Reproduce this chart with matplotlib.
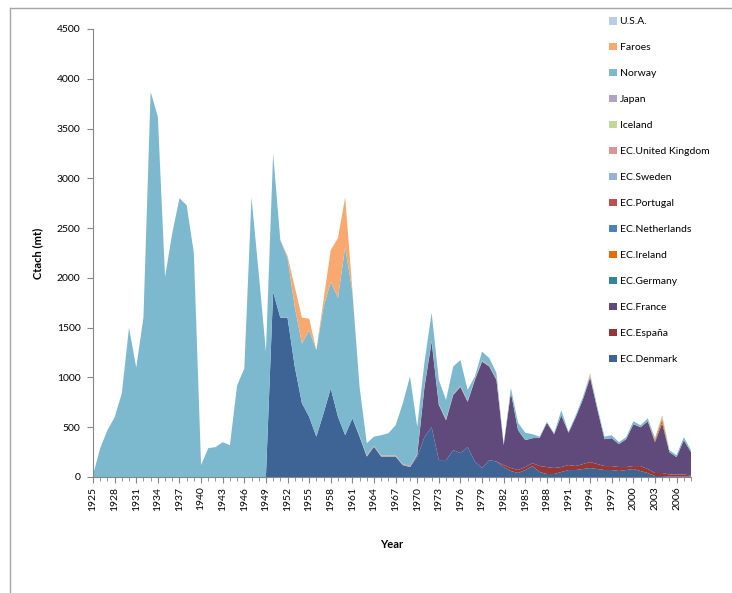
import matplotlib
matplotlib.use("Agg")
import matplotlib.pyplot as plt
from matplotlib.lines import Line2D
import numpy as np

plt.rcParams['font.family'] = ['Lato', 'DejaVu Sans']

years = list(range(1925, 2009))

# catch (mt) per country, 1925-2008
denmark = [0] * 25 + [
    1860, 1600, 1600, 1110, 740, 605, 405, 640, 890, 605,   # 1950-59
    420, 590, 405, 205, 305, 205, 205, 205, 120, 100,       # 1960-69
    200, 400, 500, 170, 170, 270, 240, 300, 155, 90,        # 1970-79
    170, 155, 100, 60, 40, 70, 110, 50, 30, 30,             # 1980-89
    50, 70, 70, 80, 90, 80, 70, 70, 60, 70,                 # 1990-99
    80, 60, 40, 10, 10, 5, 5, 5, 5]                         # 2000-08
espana = [0] * 57 + [
    20, 30, 30, 30, 30, 60, 70, 60,                         # 1982-89
    50, 50, 40, 50, 60, 50, 40, 40, 40, 30,                 # 1990-99
    30, 50, 40, 30, 30, 20, 20, 20, 10]                     # 2000-08
france = [0] * 45 + [
    20, 500, 860, 555, 400, 555, 665, 455, 820, 1070,       # 1970-79
    940, 820, 200, 760, 400, 270, 250, 285, 445, 340,       # 1980-89
    520, 325, 490, 650, 850, 550, 270, 280, 230, 280,       # 1990-99
    420, 390, 480, 310, 500, 225, 175, 345, 235]            # 2000-08
germany = [0] * 84
ireland = [0] * 78 + [20, 40, 0, 0, 0, 0]
netherlands = [0] * 84
portugal = [0] * 84
sweden = [0] * 84
uk = [0] * 37 + [10] * 20 + [0] * 27
iceland = [0] * 84
japan = [0] * 84
norway = [
    20, 290, 470, 600, 840,                                  # 1925-29
    1500, 1100, 1600, 3870, 3620, 2010, 2450, 2800, 2730, 2250,  # 1930-39
    120, 290, 300, 350, 320, 920, 1090, 2810, 2050, 1260,   # 1940-49
    1390, 780, 600, 600, 600, 870, 870, 1070, 1070, 1195,   # 1950-59
    1890, 1270, 490, 125, 90, 205, 225, 305, 610, 900,      # 1960-69
    275, 240, 280, 240, 195, 275, 260, 110, 25, 90,         # 1970-79
    75, 60, 10, 45, 75, 75, 40, 10, 10, 10,                 # 1980-89
    50, 10, 20, 25, 20, 25, 25, 30, 20, 20,                 # 1990-99
    30, 20, 30, 20, 20, 20, 20, 30, 20]                     # 2000-08
faroes = [0] * 27 + [
    20, 200, 260, 115, 0, 70, 320, 600,                     # 1952-59
    500, 20] + [0] * 32 + [20] + [0] * 9 + [20] + [0] * 4
usa = [0] * 84

labels = ["EC.Denmark", "EC.España", "EC.France", "EC.Germany", "EC.Ireland",
          "EC.Netherlands", "EC.Portugal", "EC.Sweden", "EC.United Kingdom",
          "Iceland", "Japan", "Norway", "Faroes", "U.S.A."]
series = [denmark, espana, france, germany, ireland, netherlands, portugal,
          sweden, uk, iceland, japan, norway, faroes, usa]
colors = ["#3D6495", "#953735", "#604A7B", "#31859C", "#E46C0A", "#4F81BD",
          "#C0504D", "#95B3D7", "#D99694", "#C3D69B", "#B3A2C7", "#7CB9CE",
          "#F9A86F", "#B9CDE5"]

fig = plt.figure(figsize=(7.32, 5.93), dpi=100)
ax = fig.add_axes([93 / 732, 116 / 593, 598 / 732, 448 / 593])
polys = ax.stackplot(years, *series, colors=colors, linewidth=0)

ax.set_xlim(1925, 2008)
ax.set_ylim(0, 4500)
ax.set_yticks(np.arange(0, 4501, 500))
ax.set_xticks(years, minor=True)
ax.set_xticks(list(range(1925, 2008, 3)))
ax.set_xticklabels([str(y) for y in range(1925, 2008, 3)], rotation=90)
for s in ["top", "right"]:
    ax.spines[s].set_visible(False)
for s in ["left", "bottom"]:
    ax.spines[s].set_color("#868686")
ax.tick_params(axis="both", which="both", color="#868686", labelsize=7.5)
ax.tick_params(axis="x", which="major", length=4, pad=3)
ax.tick_params(axis="x", which="minor", length=3)
ax.tick_params(axis="y", length=4, pad=5)

ax.set_ylabel("Ctach (mt)", fontsize=8, fontweight="bold", labelpad=10)
ax.set_xlabel("Year", fontsize=8, fontweight="bold", labelpad=20)

leg = fig.legend(polys[::-1], labels[::-1], loc="upper left",
                 bbox_to_anchor=(604 / 732, 1 - 12 / 593), frameon=False,
                 fontsize=7.5, handlelength=0.7, handleheight=0.7,
                 handletextpad=0.3, labelspacing=1.6, borderpad=0)

# outer chart border
fig.add_artist(Line2D([10 / 732, 10 / 732], [0, 1 - 8 / 593], color="#a6a6a6", lw=1))
fig.add_artist(Line2D([10 / 732, 1], [1 - 8 / 593, 1 - 8 / 593], color="#a6a6a6", lw=1))

fig.savefig("out.png", dpi=100)
